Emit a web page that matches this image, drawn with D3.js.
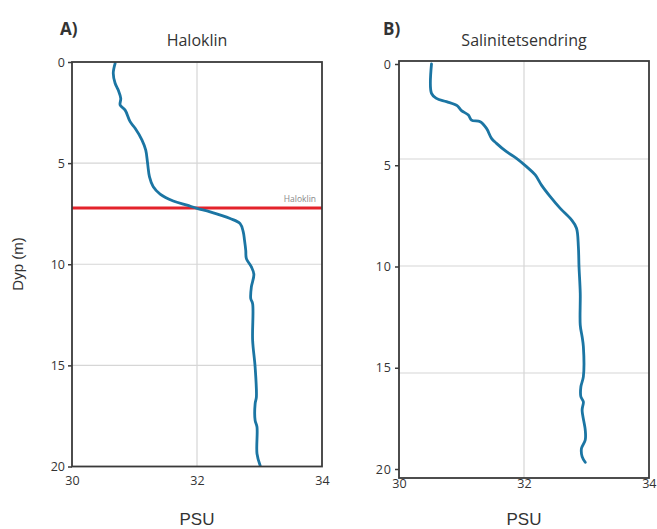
<!DOCTYPE html>
<html><head><meta charset="utf-8">
<script src="https://cdn.jsdelivr.net/npm/d3@7"></script>
<style>body{margin:0;background:#fff}svg{display:block}</style>
</head><body>
<script>
// Data
const depthTicks = [0, 5, 10, 15, 20];
const psuTicks = [30, 32, 34];
const haloklinDepth = 7.22;

const aPsu =   [30.69,30.66,30.69,30.74,30.78,30.77,30.85,30.93,31.01,31.12,31.18,31.21,31.24,31.30,31.41,31.62,31.84,32.00,32.21,32.53,32.69,32.74,32.76,32.78,32.79,32.87,32.91,32.87,32.86,32.89,32.89,32.93,32.95,32.93,32.93,32.96,32.96,33.01];
const aDepth = [0.07, 0.56, 1.05, 1.39, 1.80, 2.13, 2.38, 2.95, 3.28, 3.86, 4.36, 5.02, 5.68, 6.17, 6.53, 6.87, 7.08, 7.24, 7.41, 7.74, 7.99, 8.40, 8.81, 9.31, 9.72, 10.13,10.50,11.12,11.70,11.95,13.76,15.08,16.57,16.90,17.72,18.05,19.37,19.95];

const bPsu =   [30.52,30.52,30.60,30.76,30.93,31.00,31.11,31.16,31.30,31.40,31.48,31.56,31.72,31.88,32.04,32.18,32.28,32.42,32.58,32.76,32.84,32.87,32.88,32.90,32.90,32.93,32.95,32.95,32.91,32.91,32.95,32.93,32.98,32.98,32.92,32.93,32.98];
const bDepth = [0.00, 1.45, 1.70, 1.86, 2.06, 2.30, 2.52, 2.77, 2.85, 3.18, 3.67, 3.92, 4.33, 4.66, 5.07, 5.48, 5.98, 6.55, 7.13, 7.70, 8.11, 9.02, 10.00,11.32,12.89,13.47,13.96,15.44,15.94,16.43,16.68,17.09,18.07,18.57,18.98,19.39,19.67];

const W = 657, H = 529;
const svg = d3.select("body").append("svg").attr("width", W).attr("height", H);

const lineColor = "#1b75a3";
const frameColor = "#3a3a3a";
const gridColor = "#d6d6d6";
const tickFont = "'Open Sans', Lato, sans-serif";

function panel(cfg) {
  const x = d3.scaleLinear().domain([30, 34]).range([cfg.left, cfg.right]);
  const y = d3.scaleLinear().domain([0, 20]).range([cfg.y0, cfg.y20]);
  const yg = d3.scaleLinear().domain([0, 20]).range([cfg.g0, cfg.g20]);
  const g = svg.append("g");

  // grid
  g.selectAll(".vg").data([32]).join("line")
    .attr("x1", d => x(d)).attr("x2", d => x(d))
    .attr("y1", cfg.top).attr("y2", cfg.bottom)
    .attr("stroke", gridColor).attr("stroke-width", 1.2);
  g.selectAll(".hg").data([5, 10, 15]).join("line")
    .attr("x1", cfg.left).attr("x2", cfg.right)
    .attr("y1", d => yg(d)).attr("y2", d => yg(d))
    .attr("stroke", gridColor).attr("stroke-width", 1.2);

  // haloklin line
  if (cfg.haloklin) {
    g.append("line")
      .attr("x1", cfg.left).attr("x2", cfg.right)
      .attr("y1", y(haloklinDepth)).attr("y2", y(haloklinDepth))
      .attr("stroke", "#e3232b").attr("stroke-width", 3);
    g.append("text").attr("x", cfg.right - 6).attr("y", y(haloklinDepth) - 6)
      .attr("text-anchor", "end").attr("font-family", tickFont)
      .attr("font-size", 8.5).attr("fill", "#8a8a8a").text("Haloklin");
  }

  // data line
  const pts = cfg.psu.map((p, i) => [p, cfg.depth[i]]);
  g.append("path").datum(pts)
    .attr("d", d3.line().x(d => x(d[0])).y(d => y(d[1])).curve(d3.curveCatmullRom))
    .attr("fill", "none").attr("stroke", lineColor).attr("stroke-width", 2.8)
    .attr("stroke-linejoin", "round").attr("stroke-linecap", "round");

  // frame
  g.append("rect").attr("x", cfg.left).attr("y", cfg.top)
    .attr("width", cfg.right - cfg.left).attr("height", cfg.bottom - cfg.top)
    .attr("fill", "none").attr("stroke", frameColor).attr("stroke-width", 1.8);

  // y axis
  const ya = g.append("g").attr("transform", `translate(${cfg.left},0)`)
    .call(d3.axisLeft(y).tickValues(depthTicks).tickSize(4).tickPadding(3).tickFormat(d3.format("d")));
  ya.select(".domain").remove();
  ya.selectAll("line").attr("stroke", frameColor).attr("stroke-width", 1.5);
  ya.selectAll("text").attr("font-family", tickFont).attr("font-size", 12.5).attr("fill", "#333")
    .attr("letter-spacing", cfg.ls || 0);

  // x axis labels
  const xa = g.append("g").attr("transform", `translate(0,${cfg.bottom})`)
    .call(d3.axisBottom(x).tickValues(psuTicks).tickSize(0).tickPadding(cfg.xpad).tickFormat(d3.format("d")));
  xa.select(".domain").remove();
  xa.selectAll("text").attr("font-family", tickFont).attr("font-size", 12.5).attr("fill", "#333");
  if (cfg.clampLast) {
    xa.selectAll("text").filter(d => d === 34).attr("text-anchor", "end").attr("dx", 0)
      .attr("x", W - cfg.right - 1);
  }

  // title + letter
  g.append("text").attr("x", (cfg.left + cfg.right) / 2).attr("y", 46)
    .attr("text-anchor", "middle").attr("font-family", tickFont).attr("font-size", 16)
    .attr("fill", "#333").text(cfg.title);
  g.append("text").attr("x", cfg.letterX).attr("y", 35)
    .attr("font-family", tickFont).attr("font-size", 17).attr("font-weight", "bold")
    .attr("fill", "#333").text(cfg.letter);

  // PSU label
  g.append("text").attr("x", (cfg.left + cfg.right) / 2).attr("y", 525)
    .attr("text-anchor", "middle").attr("font-family", "'Liberation Sans', Arial, sans-serif")
    .attr("font-size", 17).attr("fill", "#333").text("PSU");
}

panel({left: 72, right: 322, top: 62, bottom: 466.5, y0: 62, y20: 466.5, g0: 62, g20: 466.5,
  psu: aPsu, depth: aDepth, haloklin: true, title: "Haloklin", letter: "A)", letterX: 60, xpad: 10});
panel({left: 399, right: 649, top: 61, bottom: 478, y0: 64, y20: 469, g0: 52, g20: 480,
  psu: bPsu, depth: bDepth, haloklin: false, title: "Salinitetsendring", letter: "B)", letterX: 383, xpad: 1, ls: 1, clampLast: true});

// y label
svg.append("text").attr("transform", "translate(23,264) rotate(-90)")
  .attr("text-anchor", "middle").attr("font-family", "'Liberation Sans', Arial, sans-serif")
  .attr("font-size", 15).attr("fill", "#333").text("Dyp (m)");
</script>
</body></html>
